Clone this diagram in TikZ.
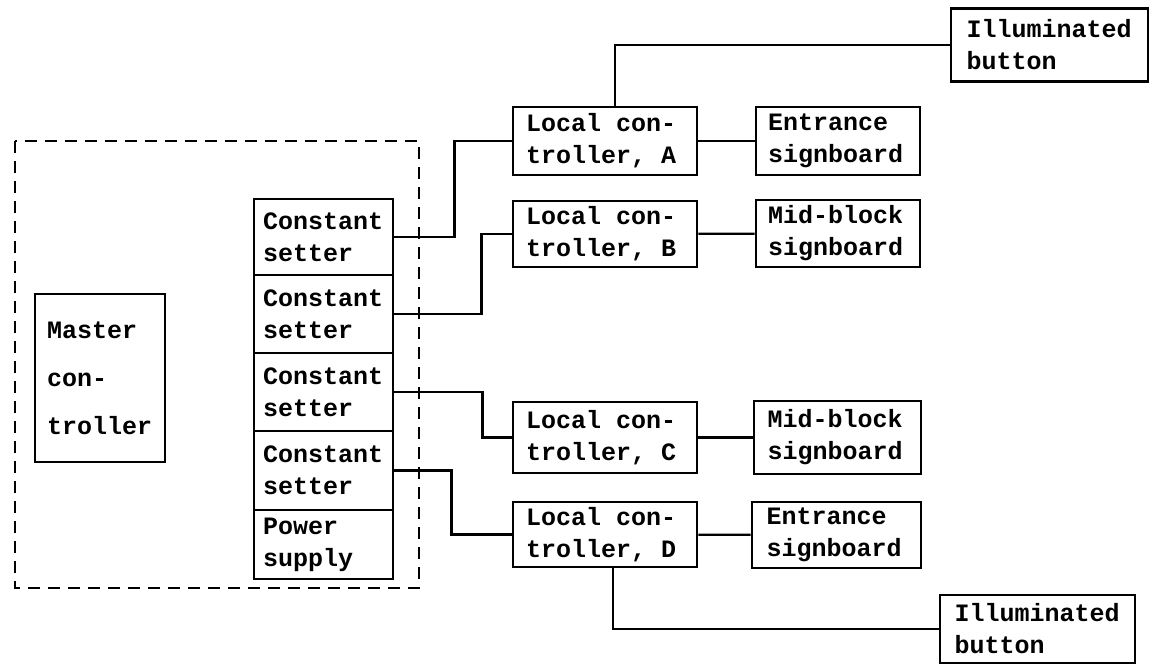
\documentclass[tikz,border=0pt]{standalone}
\usepackage{fontspec}
\setmonofont{Liberation Mono}
\DeclareRobustCommand\boxfont{\ttfamily\bfseries\fontsize{12.5}{16}\selectfont}
\begin{document}
\begin{tikzpicture}[x=0.5pt, y=-0.5pt,
  box/.style n args={3}{draw, line width=1.4pt, rectangle, inner sep=0pt, align=left,
    font=\boxfont, execute at begin node={\spaceskip=7.5pt\relax},
    minimum width=#1, minimum height=#2, text width=#3},
  wire/.style={line width=1.1pt}]
  \useasboundingbox (0,0) rectangle (1150,666);

  % central unit
  \draw[line width=1.1pt, dash pattern=on 6pt off 4pt] (15,141) rectangle (419,588);
  \node[box={65pt}{84pt}{53pt}, font=\boxfont\fontsize{12.5}{24}\selectfont] (master) at (100,378) {Master\\con-\\troller};
  \node[box={69.5pt}{38pt}{60.5pt}] (s1) at (323.5,237) {Constant\\setter};
  \node[box={69.5pt}{39pt}{60.5pt}] (s2) at (323.5,314) {Constant\\setter};
  \node[box={69.5pt}{39pt}{60.5pt}] (s3) at (323.5,392) {Constant\\setter};
  \node[box={69.5pt}{39.5pt}{60.5pt}] (s4) at (323.5,470.5) {Constant\\setter};
  \node[box={69.5pt}{34.5pt}{60.5pt}] (psu) at (323.5,544.5) {Power\\supply};

  % local controllers
  \node[box={92pt}{34pt}{79pt}] (la) at (605,141) {Local con-\\troller, A};
  \node[box={92pt}{33pt}{79pt}] (lb) at (605,234) {Local con-\\troller, B};
  \node[box={92pt}{35.5pt}{79pt}] (lc) at (605,437.5) {Local con-\\troller, C};
  \node[box={92pt}{32.5pt}{79pt}] (ld) at (605,534.5) {Local con-\\troller, D};

  % signboards and buttons
  \node[box={82pt}{34pt}{70pt}] (sa) at (838,141) {Entrance\\signboard};
  \node[box={82pt}{33.5pt}{70pt}] (sb) at (838,233.5) {Mid-block\\signboard};
  \node[box={83.5pt}{36.5pt}{70pt}] (sc) at (837.5,437.5) {Mid-block\\signboard};
  \node[box={84.5pt}{33pt}{70pt}] (sd) at (836.5,535) {Entrance\\signboard};
  \node[box={98.5pt}{36.5pt}{83pt}] (ba) at (1049.5,45) {Illuminated\\button};
  \node[box={97.5pt}{34pt}{83pt}] (bd) at (1037.5,629) {Illuminated\\button};

  \draw[wire] (s1.east) -- ++(30pt,0) |- (la.west);
  \draw[wire] (s2.east) -- ++(43.5pt,0) |- (lb.west);
  \draw[wire] (s3.east) -- ++(44pt,0) |- (lc.west);
  \draw[wire] (s4.east) -- ++(28.5pt,0) |- (ld.west);
  \draw[wire] (la) -- (sa);
  \draw[wire] (lb) -- (sb);
  \draw[wire] (lc) -- (sc);
  \draw[wire] (ld) -- (sd);
  \draw[wire] ([xshift=5pt]la.north) |- (ba.west);
  \draw[wire] ([xshift=4pt]ld.south) |- (bd.west);
\end{tikzpicture}
\end{document}
